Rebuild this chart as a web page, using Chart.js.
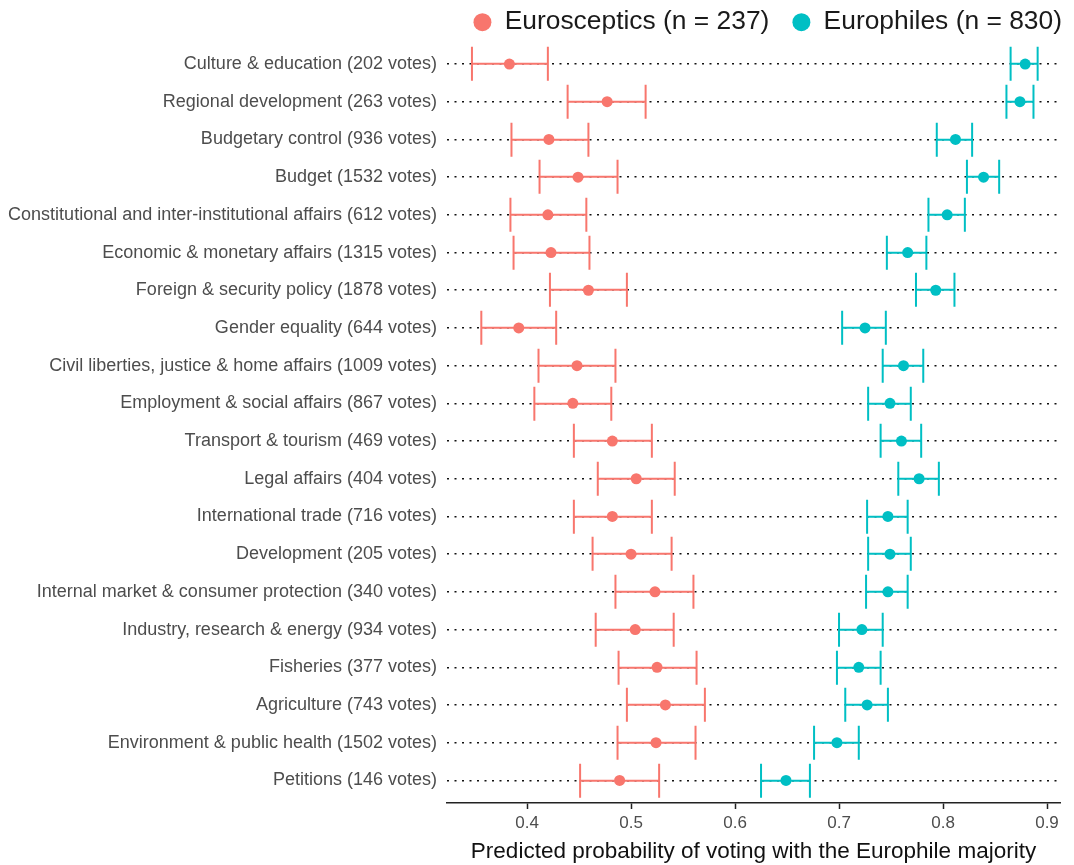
<!DOCTYPE html>
<html lang="en">
<head>
  <meta charset="UTF-8">
  <title>Predicted probability of voting with the Europhile majority</title>
  <script src="https://cdn.jsdelivr.net/npm/chart.js"></script>
  <style>
    body { margin: 0; background: #fff; }
    #wrap { width: 1074px; height: 865px; }
  </style>
</head>
<body>
  <div id="wrap"><canvas id="chart" width="1074" height="865"></canvas></div>
  <script>
    const committees = [
      'Culture & education (202 votes)',
      'Regional development (263 votes)',
      'Budgetary control (936 votes)',
      'Budget (1532 votes)',
      'Constitutional and inter-institutional affairs (612 votes)',
      'Economic & monetary affairs (1315 votes)',
      'Foreign & security policy (1878 votes)',
      'Gender equality (644 votes)',
      'Civil liberties, justice & home affairs (1009 votes)',
      'Employment & social affairs (867 votes)',
      'Transport & tourism (469 votes)',
      'Legal affairs (404 votes)',
      'International trade (716 votes)',
      'Development (205 votes)',
      'Internal market & consumer protection (340 votes)',
      'Industry, research & energy (934 votes)',
      'Fisheries (377 votes)',
      'Agriculture (743 votes)',
      'Environment & public health (1502 votes)',
      'Petitions (146 votes)'
    ];

    // Eurosceptics: point estimate and interval
    const scepticMean = [0.383, 0.477, 0.421, 0.449, 0.420, 0.423, 0.459, 0.392, 0.448, 0.444,
                         0.482, 0.505, 0.482, 0.500, 0.523, 0.504, 0.525, 0.533, 0.524, 0.489];
    const scepticLow  = [0.347, 0.439, 0.385, 0.412, 0.384, 0.387, 0.422, 0.356, 0.411, 0.407,
                         0.445, 0.468, 0.445, 0.463, 0.485, 0.466, 0.488, 0.496, 0.487, 0.451];
    const scepticHigh = [0.420, 0.514, 0.459, 0.487, 0.457, 0.460, 0.496, 0.428, 0.485, 0.481,
                         0.520, 0.542, 0.520, 0.539, 0.560, 0.541, 0.563, 0.571, 0.562, 0.527];

    // Europhiles: point estimate and interval
    const phileMean = [0.879, 0.874, 0.812, 0.839, 0.804, 0.766, 0.793, 0.725, 0.762, 0.749,
                       0.760, 0.777, 0.747, 0.749, 0.747, 0.722, 0.719, 0.727, 0.698, 0.649];
    const phileLow  = [0.865, 0.861, 0.794, 0.823, 0.786, 0.746, 0.774, 0.703, 0.742, 0.728,
                       0.740, 0.757, 0.727, 0.728, 0.726, 0.700, 0.698, 0.706, 0.676, 0.625];
    const phileHigh = [0.891, 0.887, 0.828, 0.854, 0.821, 0.784, 0.811, 0.745, 0.781, 0.769,
                       0.779, 0.796, 0.766, 0.769, 0.766, 0.742, 0.740, 0.747, 0.719, 0.672];

    const xTicks = [0.4, 0.5, 0.6, 0.7, 0.8, 0.9];
    const seriesNames = ['Eurosceptics (n = 237)', 'Europhiles (n = 830)'];
    const seriesColors = ['#F8766D', '#00BFC4'];

    const font = "'Liberation Sans', Arial, sans-serif";

    // draws the whiskers under the points
    const errorBars = {
      id: 'errorBars',
      beforeDatasetsDraw(chart) {
        const { ctx, scales: { x, y } } = chart;
        const cap = Math.abs(y.getPixelForValue(0.45) - y.getPixelForValue(0));
        chart.data.datasets.forEach(ds => {
          ctx.save();
          ctx.strokeStyle = ds.borderColor;
          ctx.lineWidth = 2;
          ds.low.forEach((lo, i) => {
            // same pixel snapping as the 1.5px dotted grid line, so it is fully covered
            const yy = Math.round(y.getPixelForValue(i) - 0.75) + 0.75;
            const x1 = x.getPixelForValue(lo);
            const x2 = x.getPixelForValue(ds.high[i]);
            ctx.beginPath();
            ctx.moveTo(x1, yy); ctx.lineTo(x2, yy);
            ctx.moveTo(x1, yy - cap); ctx.lineTo(x1, yy + cap);
            ctx.moveTo(x2, yy - cap); ctx.lineTo(x2, yy + cap);
            ctx.stroke();
          });
          ctx.restore();
        });
      }
    };

    // nudge the legend a bit: right-aligned over the panel like the ggplot one
    const legendNudge = {
      id: 'legendNudge',
      afterLayout(chart) {
        const lg = chart.legend;
        if (!lg) return;
        lg.left += 25; lg.right += 25;
        lg.top += 4; lg.bottom += 4;
      }
    };

    function makeSet(name, color, mean, low, high) {
      return {
        label: name,
        data: mean.map((v, i) => ({ x: v, y: i })),
        low: low,
        high: high,
        backgroundColor: color,
        borderColor: color,
        pointRadius: 5.5,
        pointHoverRadius: 5.5,
        pointBorderWidth: 0,
        pointStyle: 'circle'
      };
    }

    new Chart(document.getElementById('chart'), {
      type: 'scatter',
      data: {
        datasets: [
          makeSet(seriesNames[0], seriesColors[0], scepticMean, scepticLow, scepticHigh),
          makeSet(seriesNames[1], seriesColors[1], phileMean, phileLow, phileHigh)
        ]
      },
      plugins: [errorBars, legendNudge],
      options: {
        responsive: false,
        animation: false,
        layout: { padding: { left: 0, right: 14, top: -18, bottom: 0 } },
        plugins: {
          tooltip: { enabled: false },
          legend: {
            position: 'top',
            align: 'end',
            labels: {
              usePointStyle: true,
              boxWidth: 18,
              boxHeight: 12.7,
              padding: 23,
              color: '#1a1a1a',
              font: { family: font, size: 26.4 }
            }
          }
        },
        scales: {
          x: {
            type: 'linear',
            min: 0.323,
            max: 0.9125,
            afterBuildTicks: s => { s.ticks = xTicks.map(v => ({ value: v })); },
            afterFit: s => { s.height = 62; },
            ticks: {
              color: '#4d4d4d',
              padding: 4.5,
              font: { family: font, size: 17 },
              callback: v => v.toFixed(1)
            },
            grid: { drawOnChartArea: false, drawTicks: true, tickLength: 6, tickColor: '#222', tickWidth: 1.5 },
            border: { display: true, color: '#222', width: 1.5 },
            title: {
              display: true,
              text: 'Predicted probability of voting with the Europhile majority',
              color: '#111',
              font: { family: font, size: 22.5 },
              padding: { top: 0, bottom: 0 }
            }
          },
          y: {
            type: 'linear',
            reverse: true,
            min: -0.6,
            max: committees.length - 0.4,
            afterBuildTicks: s => { s.ticks = committees.map((_, i) => ({ value: i })); },
            afterFit: s => { s.width = 447; },
            ticks: {
              color: '#4d4d4d',
              padding: 10,
              font: { family: font, size: 18 },
              callback: v => committees[v]
            },
            grid: { color: '#111', lineWidth: 1.5, drawTicks: false },
            border: { display: false, dash: [2, 5.5] }
          }
        }
      }
    });
  </script>
</body>
</html>
